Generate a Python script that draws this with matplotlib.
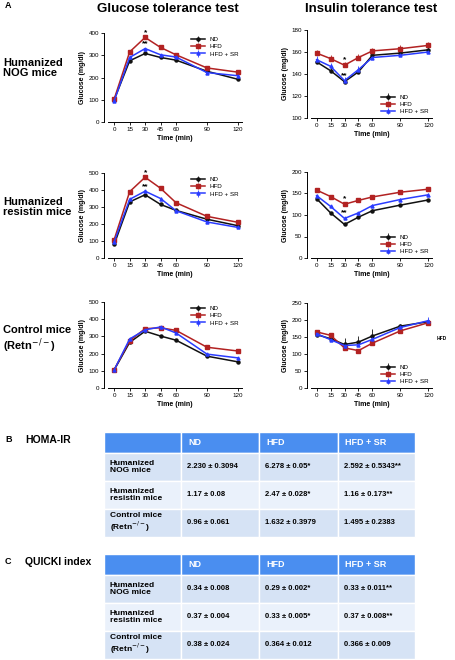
import matplotlib
matplotlib.use("Agg")
import matplotlib.pyplot as plt
from matplotlib.patches import Rectangle

plt.rcParams['font.family'] = ['Liberation Sans', 'DejaVu Sans']

time = [0, 15, 30, 45, 60, 90, 120]
series_names = ["ND", "HFD", "HFD + SR"]
colors = ["#111111", "#b22222", "#2a3cff"]
markers = ["o", "s", "^"]

gtt_nog = [[100, 275, 308, 290, 278, 228, 192],
           [103, 315, 380, 335, 302, 243, 224],
           [95, 290, 330, 302, 292, 222, 208]]
itt_nog = [[151, 143, 133, 142, 157, 159, 162],
           [159, 154, 148, 155, 161, 163, 166],
           [153, 147, 134, 144, 155, 157, 160]]
gtt_res = [[80, 330, 372, 315, 280, 228, 190],
           [108, 390, 475, 410, 325, 245, 210],
           [95, 345, 393, 350, 278, 212, 180]]
itt_res = [[138, 105, 78, 95, 110, 123, 135],
           [158, 143, 125, 134, 142, 153, 160],
           [145, 120, 92, 105, 122, 136, 147]]
gtt_ctl = [[105, 265, 330, 302, 278, 185, 152],
           [107, 275, 345, 350, 335, 237, 215],
           [105, 285, 338, 355, 320, 197, 175]]
itt_ctl = [[157, 145, 128, 135, 153, 182, 195],
           [165, 155, 118, 110, 132, 168, 192],
           [160, 142, 125, 127, 143, 178, 198]]
err_ctl_itt = [[3, 4, 18, 18, 22, 6, 5], [4, 4, 4, 4, 4, 4, 4], [4, 4, 4, 4, 4, 4, 12]]

row_labels = ["Humanized\nNOG mice", "Humanized\nresistin mice", "Control mice\n(Retn$^{-/-}$)"]
col_heads = ["ND", "HFD", "HFD + SR"]
homa = [["2.230 ± 0.3094", "6.278 ± 0.05*", "2.592 ± 0.5343**"],
        ["1.17 ± 0.08", "2.47 ± 0.028*", "1.16 ± 0.173**"],
        ["0.96 ± 0.061", "1.632 ± 0.3979", "1.495 ± 0.2383"]]
quicki = [["0.34 ± 0.008", "0.29 ± 0.002*", "0.33 ± 0.011**"],
          ["0.37 ± 0.004", "0.33 ± 0.005*", "0.37 ± 0.008**"],
          ["0.38 ± 0.024", "0.364 ± 0.012", "0.366 ± 0.009"]]

W, H = 456, 660
fig = plt.figure(figsize=(W / 100, H / 100), dpi=100)

def axes_px(x0, y0, x1, y1):
    return fig.add_axes([x0 / W, 1 - y1 / H, (x1 - x0) / W, (y1 - y0) / H])

def panel(box, data, ymax, ystep, ymin=0, legend_loc="upper right", errs=None, stars=None):
    ax = axes_px(*box)
    for i, (vals, c, m) in enumerate(zip(data, colors, markers)):
        e = errs[i] if errs else [max(3, 0.012 * ymax)] * len(vals)
        ax.errorbar(time, vals, yerr=[[0] * len(vals), e], color=c, marker=m, ms=2.2,
                    lw=1.1, elinewidth=0.6, capsize=0, label=series_names[i])
    ax.set_xlim(-6, 124)
    ax.set_ylim(ymin, ymax)
    ax.set_xticks(time)
    ax.set_yticks(range(ymin, ymax + 1, ystep))
    ax.tick_params(labelsize=4.5, length=2, width=0.6, pad=1.5)
    for s in ["top", "right"]:
        ax.spines[s].set_visible(False)
    for s in ["left", "bottom"]:
        ax.spines[s].set_linewidth(0.7)
    ax.spines["left"].set_position(("outward", 3))
    ax.set_xlabel("Time (min)", fontsize=5, fontweight="bold", labelpad=2)
    ax.set_ylabel("Glucose (mg/dl)", fontsize=5, fontweight="bold", labelpad=2)
    ax.legend(loc=legend_loc, fontsize=4.5, frameon=False, handlelength=2.2,
              labelspacing=0.3, borderaxespad=0.2)
    if stars:
        for (x, y, t) in stars:
            ax.text(x, y, t, fontsize=6, ha="center", va="bottom", fontweight="bold")
    return ax

panel((108, 33, 242, 122), gtt_nog, 400, 100, stars=[(30, 384, "*"), (30, 334, "**")])
panel((311, 30, 432, 118), itt_nog, 180, 20, ymin=100, legend_loc="lower right",
      stars=[(30, 150, "*"), (30, 135, "**")])
panel((108, 173, 242, 258), gtt_res, 500, 100, stars=[(30, 480, "*"), (30, 398, "**")])
panel((311, 172, 432, 258), itt_res, 200, 50, legend_loc="lower right",
      stars=[(30, 130, "*"), (30, 97, "**")])
panel((108, 302, 242, 388), gtt_ctl, 500, 100)
panel((311, 303, 432, 388), itt_ctl, 250, 50, legend_loc="lower right", errs=err_ctl_itt)

ov = fig.add_axes([0, 0, 1, 1])
ov.set_xlim(0, W)
ov.set_ylim(H, 0)
ov.axis("off")
ov.text(5, 6, "A", fontsize=6.5, fontweight="bold", va="center")
ov.text(168, 9, "Glucose tolerance test", fontsize=9.5, fontweight="bold", ha="center", va="center")
ov.text(371, 9, "Insulin tolerance test", fontsize=9.5, fontweight="bold", ha="center", va="center")
for y, t in zip([68, 207, 340], row_labels):
    ov.text(3, y, t, fontsize=8, fontweight="bold", va="center", linespacing=1.1)
ov.text(437, 339, "HFD", fontsize=3.5, fontweight="bold", va="center")

def table(top, title, letter, rows):
    ov.text(5, top + 8, letter, fontsize=6.5, fontweight="bold", va="center")
    ov.text(25, top + 8, title, fontsize=7.5, fontweight="bold", va="center")
    xs = [104, 181, 259, 338, 415]
    ys = [top, top + 21, top + 49, top + 77, top + 105]
    fills = ["#4a8ef0", "#d6e3f5", "#eaf1fb", "#d6e3f5"]
    for r in range(4):
        for c in range(4):
            ov.add_patch(Rectangle((xs[c], ys[r]), xs[c + 1] - xs[c], ys[r + 1] - ys[r],
                                   facecolor=fills[r], edgecolor="white", lw=1.0))
    for c in range(3):
        ov.text(xs[c + 1] + 7, (ys[0] + ys[1]) / 2, col_heads[c], color="white",
                fontsize=6.5, fontweight="bold", va="center")
    for r in range(3):
        yc = (ys[r + 1] + ys[r + 2]) / 2
        ov.text(xs[0] + 6, yc, row_labels[r], fontsize=6, fontweight="bold", va="center",
                linespacing=1.1)
        for c in range(3):
            ov.text(xs[c + 1] + 6, yc, rows[r][c], fontsize=5.5, fontweight="bold", va="center")

table(432, "HOMA-IR", "B", homa)
table(554, "QUICKI index", "C", quicki)

fig.savefig("out.png", dpi=100, facecolor="white")
